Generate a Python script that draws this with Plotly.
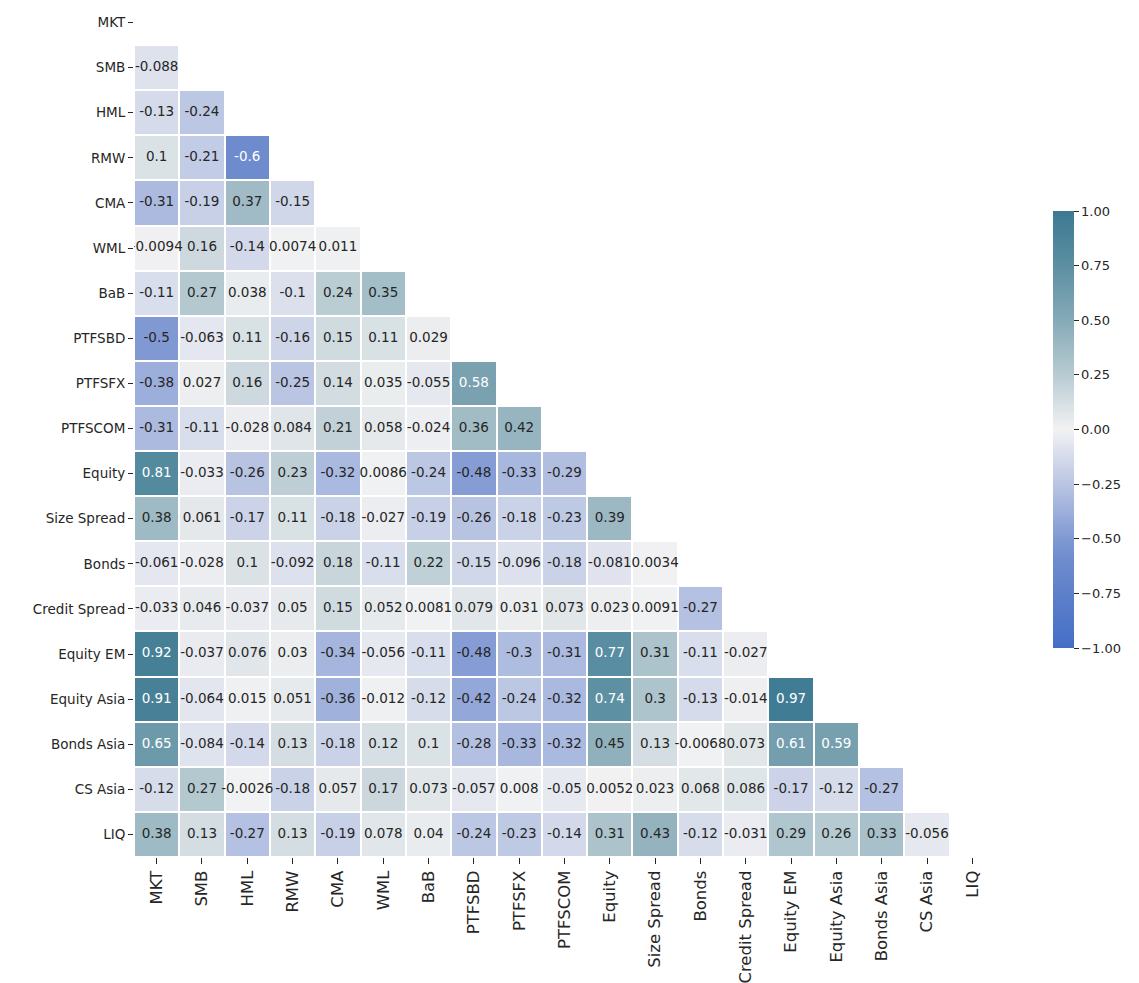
import plotly.graph_objects as go

# Factor names (rows top-to-bottom, columns left-to-right)
factors = ["MKT", "SMB", "HML", "RMW", "CMA", "WML", "BaB", "PTFSBD", "PTFSFX",
           "PTFSCOM", "Equity", "Size Spread", "Bonds", "Credit Spread",
           "Equity EM", "Equity Asia", "Bonds Asia", "CS Asia", "LIQ"]

# Lower-triangle correlations, one list per row (columns MKT .. previous factor)
corr_smb = [-0.088]
corr_hml = [-0.13, -0.24]
corr_rmw = [0.1, -0.21, -0.6]
corr_cma = [-0.31, -0.19, 0.37, -0.15]
corr_wml = [-0.0094, 0.16, -0.14, 0.0074, 0.011]
corr_bab = [-0.11, 0.27, 0.038, -0.1, 0.24, 0.35]
corr_ptfsbd = [-0.5, -0.063, 0.11, -0.16, 0.15, 0.11, 0.029]
corr_ptfsfx = [-0.38, 0.027, 0.16, -0.25, 0.14, 0.035, -0.055, 0.58]
corr_ptfscom = [-0.31, -0.11, -0.028, 0.084, 0.21, 0.058, -0.024, 0.36, 0.42]
corr_equity = [0.81, -0.033, -0.26, 0.23, -0.32, 0.0086, -0.24, -0.48, -0.33, -0.29]
corr_size_spread = [0.38, 0.061, -0.17, 0.11, -0.18, -0.027, -0.19, -0.26, -0.18,
                    -0.23, 0.39]
corr_bonds = [-0.061, -0.028, 0.1, -0.092, 0.18, -0.11, 0.22, -0.15, -0.096, -0.18,
              -0.081, 0.0034]
corr_credit_spread = [-0.033, 0.046, -0.037, 0.05, 0.15, 0.052, 0.0081, 0.079, 0.031,
                      0.073, 0.023, 0.0091, -0.27]
corr_equity_em = [0.92, -0.037, 0.076, 0.03, -0.34, -0.056, -0.11, -0.48, -0.3, -0.31,
                  0.77, 0.31, -0.11, -0.027]
corr_equity_asia = [0.91, -0.064, 0.015, 0.051, -0.36, -0.012, -0.12, -0.42, -0.24,
                    -0.32, 0.74, 0.3, -0.13, -0.014, 0.97]
corr_bonds_asia = [0.65, -0.084, -0.14, 0.13, -0.18, 0.12, 0.1, -0.28, -0.33, -0.32,
                   0.45, 0.13, -0.0068, 0.073, 0.61, 0.59]
corr_cs_asia = [-0.12, 0.27, -0.0026, -0.18, 0.057, 0.17, 0.073, -0.057, 0.008, -0.05,
                0.0052, 0.023, 0.068, 0.086, -0.17, -0.12, -0.27]
corr_liq = [0.38, 0.13, -0.27, 0.13, -0.19, 0.078, 0.04, -0.24, -0.23, -0.14, 0.31,
            0.43, -0.12, -0.031, 0.29, 0.26, 0.33, -0.056]

cbar_ticks = [-1.0, -0.75, -0.5, -0.25, 0.0, 0.25, 0.5, 0.75, 1.0]

lower_rows = [[], corr_smb, corr_hml, corr_rmw, corr_cma, corr_wml, corr_bab,
              corr_ptfsbd, corr_ptfsfx, corr_ptfscom, corr_equity, corr_size_spread,
              corr_bonds, corr_credit_spread, corr_equity_em, corr_equity_asia,
              corr_bonds_asia, corr_cs_asia, corr_liq]

# Full matrix with the diagonal and upper triangle masked out
n = len(factors)
z = [[None] * n for _ in range(n)]
for i, row in enumerate(lower_rows):
    for j, v in enumerate(row):
        z[i][j] = v

# Diverging blue -> light grey -> teal palette
colorscale = [
    [0.0, "rgb(68,110,198)"],
    [0.2, "rgb(110,139,205)"],
    [0.25, "rgb(128,153,211)"],
    [0.375, "rgb(186,197,227)"],
    [0.5, "rgb(242,242,243)"],
    [0.625, "rgb(184,203,210)"],
    [0.75, "rgb(134,170,183)"],
    [0.875, "rgb(92,143,162)"],
    [1.0, "rgb(60,121,145)"],
]

FONT = "DejaVu Sans"
INK = "#262626"

fig = go.Figure()
fig.add_trace(go.Heatmap(
    z=z, x=factors, y=factors,
    zmin=-1, zmax=1, colorscale=colorscale,
    xgap=2, ygap=2, hoverongaps=False,
    colorbar=dict(
        xref="container", x=1043 / 1139, xanchor="left",
        yref="paper", y=(983 - 429.5 - 126) / 857, yanchor="middle",
        lenmode="pixels", len=457, thickness=21, outlinewidth=0,
        ticks="outside", ticklen=5, tickcolor=INK,
        tickvals=cbar_ticks, tickformat=".2f",
        tickfont=dict(family=FONT, size=13, color=INK),
    ),
))

# Cell annotations (two significant digits), light text on dark cells
tx, ty, tt, tc = [], [], [], []
for i, row in enumerate(lower_rows):
    for j, v in enumerate(row):
        tx.append(factors[j])
        ty.append(factors[i])
        tt.append(f"{v:.2g}")
        tc.append("white" if (v >= 0.55 or v <= -0.55) else INK)

fig.add_trace(go.Scatter(
    x=tx, y=ty, text=tt, mode="text", textposition="middle center",
    textfont=dict(family=FONT, size=13.5, color=tc),
    hoverinfo="skip", showlegend=False,
))

axis_common = dict(
    showgrid=False, zeroline=False, showline=False,
    ticks="outside", tickcolor=INK, tickwidth=1,
    type="category", categoryorder="array", categoryarray=factors,
)

fig.update_layout(
    width=1139, height=983,
    margin=dict(l=134, r=144, t=0, b=126),
    paper_bgcolor="white", plot_bgcolor="white",
    xaxis=dict(**axis_common, tickangle=-90, range=[-0.5, n - 0.5], ticklen=6,
               tickfont=dict(family=FONT, size=16.5, color=INK)),
    yaxis=dict(**axis_common, range=[n - 0.5, -0.5], ticklen=5,
               tickfont=dict(family=FONT, size=13.5, color=INK)),
    showlegend=False,
)

fig.write_html("out.html")
